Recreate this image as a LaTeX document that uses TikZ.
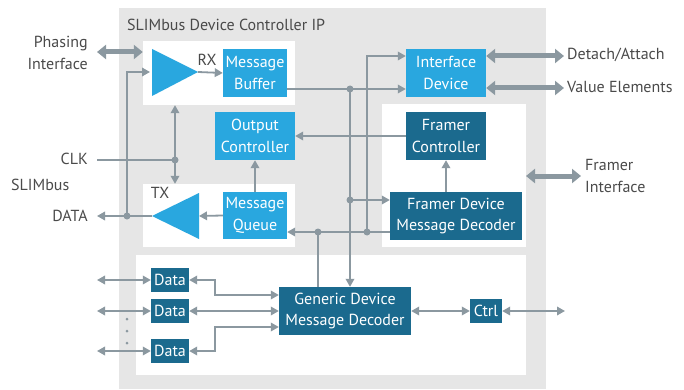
\documentclass[tikz,border=0pt]{standalone}
\usepackage{fontspec}
\setmainfont{PT Sans}
\usetikzlibrary{arrows.meta,calc}
\definecolor{lblue}{HTML}{29A7DF}
\definecolor{dblue}{HTML}{1B6A8E}
\definecolor{bggray}{HTML}{E6E6E6}
\definecolor{lc}{HTML}{8B98A0}
\definecolor{tc}{HTML}{4A4A4A}
\begin{document}
\begin{tikzpicture}[x=1pt,y=-1pt,
  every node/.style={font=\fontsize{16}{21.5}\selectfont, inner sep=0pt},
  blk/.style={align=center, text=white},
  lbox/.style={blk, fill=lblue},
  dbox/.style={blk, fill=dblue},
  wbox/.style={fill=white},
  lbl/.style={text=tc},
  ln/.style={draw=lc, line width=1.8pt},
  arr/.style={ln, -{Triangle[length=8pt,width=8.5pt]}},
  darr/.style={ln, {Triangle[length=8pt,width=8.5pt]}-{Triangle[length=8pt,width=8.5pt]}},
  big/.style={draw=lc, line width=5pt, {Triangle[length=9pt,width=14pt]}-{Triangle[length=9pt,width=14pt]}},
  dot/.style={circle, fill=lc, minimum size=7pt, inner sep=0pt}
]
\useasboundingbox (0,0) rectangle (684,390);
% background
\node[fill=bggray, minimum width=427, minimum height=381] (bg) at (332.5,198.5) {};
\node[lbl, anchor=west] (title) at (127,25) {SLIMbus Device Controller IP};
% white panels
\node[wbox, minimum width=152, minimum height=64] (rxw) at (219,73) {};
\node[wbox, minimum width=152, minimum height=63] (txw) at (219,215.5) {};
\node[wbox, minimum width=144, minimum height=143] (frw) at (454,175.5) {};
\node[wbox, minimum width=390, minimum height=120] (low) at (331,315) {};
% triangles
\fill[lblue] (152,49) -- (152,96) -- (198,72) -- cycle;
\coordinate (rxin) at (150,72);
\coordinate (rxtip) at (198,72);
\fill[lblue] (199,193) -- (199,239) -- (152,216) -- cycle;
\coordinate (txin) at (199,216);
\coordinate (txtip) at (152,216);
\node[lbl] (rx) at (207,60) {RX};
\node[lbl] (tx) at (160,193) {TX};
% blocks
\node[lbox, minimum width=64, minimum height=48] (mb) at (255,73) {Message\\Buffer};
\node[lbox, minimum width=80, minimum height=48] (oc) at (255,136) {Output\\Controller};
\node[lbox, minimum width=64, minimum height=47] (mq) at (255,215.5) {Message\\Queue};
\node[lbox, minimum width=80, minimum height=48] (id) at (446,73) {Interface\\Device};
\node[dbox, minimum width=80, minimum height=48] (fc) at (446,136) {Framer\\Controller};
\node[dbox, minimum width=132, minimum height=48] (fd) at (456,216) {Framer Device\\Message Decoder};
\node[dbox, minimum width=132, minimum height=48] (gd) at (345,311) {Generic Device\\Message Decoder};
\node[dbox, minimum width=38, minimum height=24] (d1) at (170,280) {Data};
\node[dbox, minimum width=38, minimum height=24] (d2) at (170,311) {Data};
\node[dbox, minimum width=38, minimum height=24] (d3) at (170,351) {Data};
\node[dbox, minimum width=32, minimum height=24] (ctrl) at (486,311) {Ctrl};
% outside labels
\node[lbl, anchor=east, align=right] (phase) at (88,53) {Phasing\\Interface};
\node[lbl, anchor=east] (clk) at (88,159) {CLK};
\node[lbl, anchor=west] (slim) at (11,185) {SLIMbus};
\node[lbl, anchor=east] (data) at (88,216) {DATA};
\node[lbl, anchor=west] (det) at (567,55) {Detach/Attach};
\node[lbl, anchor=west] (val) at (567,87) {Value Elements};
\node[lbl, anchor=west, align=left] (fri) at (585,176) {Framer\\Interface};
% coordinates
\coordinate (phL) at (97,52);
\coordinate (dataL) at (97,216);
\coordinate (clkL) at (97,160);
\coordinate (jd) at (127,216);
\coordinate (jc) at (175,160);
\coordinate (j1) at (350,89);
\coordinate (j2) at (350,200);
\coordinate (j3) at (367,232);
\coordinate (j4) at (318,232);
\coordinate (detR) at (564,56);
\coordinate (valR) at (564,88);
\coordinate (frL) at (526,176);
\coordinate (frR) at (581,176);
\coordinate (dl1) at (97,280);
\coordinate (dl2) at (97,311);
\coordinate (dl3) at (97,351);
\coordinate (ctR) at (565,311);
% connectors
\draw[big] (phL) -- (phL -| rxw.west);
\draw[arr] (txtip) -- (dataL);
\draw[arr] (jd) -- (jd |- rxin) -- (rxin);
\draw[arr] (mq.west) -- (txin);
\draw[arr] (rxtip) -- (mb.west);
\draw[ln] (clkL) -- (jc);
\draw[darr] (jc |- rxw.south) -- (jc |- txw.north);
\draw[arr] (mq.north) -- (oc.south);
\draw[arr] (mb.east |- j1) -- (id.west |- j1);
\draw[arr] (j1) -- (j1 |- gd.north);
\draw[arr] (j2) -- (j2 -| fd.west);
\draw[arr] (fc.west) -- (oc.east);
\draw[arr] (fd.north -| fc.south) -- (fc.south);
\draw[arr] (fd.west |- j3) -- (mq.east |- j3);
\draw[arr] (j3) -- (367,56) -- (id.west |- 0,56);
\draw[ln] (j4) -- (j4 |- gd.north);
\draw[big] (id.east |- detR) -- (detR);
\draw[big] (id.east |- valR) -- (valR);
\draw[big] (frL) -- (frR);
\draw[darr] (dl1) -- (d1.west);
\draw[darr] (dl2) -- (d2.west);
\draw[darr] (dl3) -- (d3.west);
\draw[darr] (d1.east) -- (215,280) -- (215,295) -- (gd.west |- 0,295);
\draw[darr] (d2.east) -- (gd.west);
\draw[darr] (d3.east) -- (215,351) -- (215,327) -- (gd.west |- 0,327);
\draw[darr] (gd.east) -- (ctrl.west);
\draw[darr] (ctrl.east) -- (ctR);
% dots
\node[dot] (dd) at (jd) {};
\node[dot] (dc) at (jc) {};
\node[dot] (dj1) at (j1) {};
\node[dot] (dj2) at (j2) {};
\node[dot] (dj3) at (j3) {};
\node[dot] (dj4) at (j4) {};
\node[dot, minimum size=3pt] (e1) at (127,319) {};
\node[dot, minimum size=3pt] (e2) at (127,331) {};
\node[dot, minimum size=3pt] (e3) at (127,343) {};
\end{tikzpicture}
\end{document}
